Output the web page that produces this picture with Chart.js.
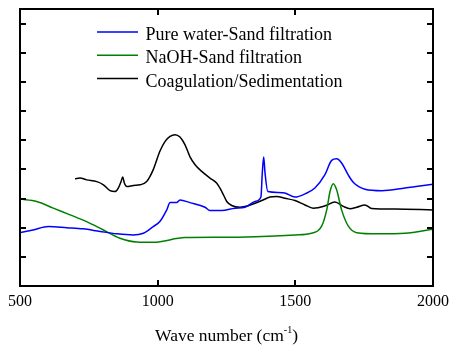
<!DOCTYPE html>
<html>
<head>
<meta charset="utf-8">
<script src="https://cdn.jsdelivr.net/npm/chart.js@4/dist/chart.umd.min.js"></script>
<style>
  html, body { margin: 0; padding: 0; background: #fff; }
  #wrap { width: 451px; height: 349px; position: relative; }
</style>
</head>
<body>
<div id="wrap"><canvas id="c" width="451" height="349"></canvas></div>
<script>
// FTIR spectra of the treated samples (wave number in cm-1, absorbance in arbitrary units)
const seriesLabels = ['Pure water-Sand filtration', 'NaOH-Sand filtration', 'Coagulation/Sedimentation'];
const seriesColors = ['#0000ff', '#008000', '#000000'];

const wavePure = [500, 547, 603, 670, 729, 791, 851, 910, 948, 984, 1008, 1033, 1045, 1069, 1081, 1117, 1172, 1190, 1233, 1281, 1317, 1354, 1375, 1380, 1385, 1390, 1400, 1438, 1462, 1499, 1535, 1571, 1607, 1632, 1650, 1668, 1692, 1711, 1753, 1814, 1898, 2000];
const absPure  = [1.83, 1.92, 2.04, 2.00, 1.96, 1.87, 1.79, 1.75, 1.81, 2.04, 2.21, 2.61, 2.86, 2.86, 2.95, 2.86, 2.70, 2.59, 2.59, 2.67, 2.70, 2.90, 3.05, 3.87, 4.42, 3.87, 3.24, 3.21, 3.19, 3.05, 3.16, 3.36, 3.81, 4.31, 4.36, 4.22, 3.81, 3.55, 3.32, 3.27, 3.36, 3.49];

const waveNaOH = [500, 561, 621, 682, 742, 803, 863, 924, 984, 1099, 1233, 1354, 1499, 1559, 1596, 1614, 1626, 1638, 1650, 1668, 1692, 1723, 1800, 1898, 2000];
const absNaOH  = [2.98, 2.90, 2.67, 2.44, 2.21, 1.92, 1.64, 1.51, 1.50, 1.66, 1.67, 1.69, 1.75, 1.81, 2.06, 2.61, 3.24, 3.51, 3.30, 2.61, 2.06, 1.83, 1.79, 1.81, 1.95];

const waveCoag = [700, 718, 742, 779, 803, 827, 845, 857, 867, 873, 879, 888, 912, 936, 960, 984, 1008, 1027, 1045, 1063, 1081, 1099, 1117, 1136, 1160, 1190, 1214, 1233, 1251, 1269, 1299, 1329, 1354, 1378, 1408, 1432, 1462, 1499, 1535, 1565, 1608, 1644, 1674, 1699, 1723, 1753, 1777, 1862, 2000];
const absCoag  = [3.68, 3.70, 3.64, 3.58, 3.47, 3.27, 3.24, 3.36, 3.58, 3.74, 3.53, 3.41, 3.45, 3.47, 3.58, 3.99, 4.62, 4.96, 5.13, 5.19, 5.11, 4.85, 4.44, 4.16, 3.93, 3.70, 3.53, 3.24, 2.90, 2.76, 2.70, 2.75, 2.84, 2.93, 3.05, 3.07, 3.01, 2.93, 2.78, 2.67, 2.75, 2.88, 2.73, 2.65, 2.70, 2.78, 2.66, 2.64, 2.61];

const xTicks = [500, 1000, 1500, 2000];
const xTitle = 'Wave number (cm';
const xTitleSup = '-1';

const SERIF = '"Liberation Serif", "Times New Roman", serif';

function pts(xs, ys) { return xs.map((x, i) => ({ x: x, y: ys[i] })); }

// Frame, inward tick marks, legend and axis title
const framePlugin = {
  id: 'frame',
  afterDraw(chart) {
    const ctx = chart.ctx;
    const a = chart.chartArea;
    const xs = chart.scales.x, ys = chart.scales.y;
    ctx.save();
    ctx.strokeStyle = '#000';
    ctx.lineWidth = 2;
    ctx.strokeRect(a.left, a.top, a.right - a.left, a.bottom - a.top);
    ctx.beginPath();
    xs.ticks.forEach(t => {
      const px = Math.round(xs.getPixelForValue(t.value));
      if (px <= a.left + 1 || px >= a.right - 1) return;
      ctx.moveTo(px, a.bottom); ctx.lineTo(px, a.bottom - 6);
      ctx.moveTo(px, a.top); ctx.lineTo(px, a.top + 6);
    });
    ys.ticks.forEach(t => {
      if (t.value <= 0 || t.value > 9) return;
      const py = Math.round(ys.getPixelForValue(t.value));
      ctx.moveTo(a.left, py); ctx.lineTo(a.left + 6, py);
      ctx.moveTo(a.right, py); ctx.lineTo(a.right - 6, py);
    });
    ctx.stroke();

    // legend
    ctx.font = '18px ' + SERIF;
    ctx.textBaseline = 'alphabetic';
    ctx.textAlign = 'left';
    chart.data.datasets.forEach((ds, i) => {
      const y = 32 + i * 23.3;
      ctx.strokeStyle = ds.borderColor;
      ctx.lineWidth = 1.5;
      ctx.beginPath();
      ctx.moveTo(97, y); ctx.lineTo(138, y);
      ctx.stroke();
      ctx.fillStyle = '#000';
      ctx.fillText(ds.label, 145.5, y + 8);
    });

    // x axis title with superscript
    ctx.fillStyle = '#000';
    ctx.font = '17.5px ' + SERIF;
    const w1 = ctx.measureText(xTitle).width;
    ctx.font = '10px ' + SERIF;
    const w2 = ctx.measureText(xTitleSup).width;
    ctx.font = '17.5px ' + SERIF;
    const w3 = ctx.measureText(')').width;
    const cx = (a.left + a.right) / 2;
    const x0 = cx - (w1 + w2 + w3) / 2;
    const base = 341;
    ctx.fillText(xTitle, x0, base);
    ctx.font = '10px ' + SERIF;
    ctx.fillText(xTitleSup, x0 + w1, base - 8);
    ctx.font = '17.5px ' + SERIF;
    ctx.fillText(')', x0 + w1 + w2, base);
    ctx.restore();
  }
};

const lineDs = (label, color, xs, ys) => ({
  label: label,
  data: pts(xs, ys),
  borderColor: color,
  backgroundColor: color,
  borderWidth: 1.5,
  pointRadius: 0,
  fill: false,
  cubicInterpolationMode: 'monotone'
});

new Chart(document.getElementById('c'), {
  type: 'line',
  data: {
    datasets: [
      lineDs(seriesLabels[0], seriesColors[0], wavePure, absPure),
      lineDs(seriesLabels[1], seriesColors[1], waveNaOH, absNaOH),
      lineDs(seriesLabels[2], seriesColors[2], waveCoag, absCoag)
    ]
  },
  options: {
    responsive: false,
    animation: false,
    layout: { padding: { left: 0, right: 18, top: 9, bottom: 0 } },
    plugins: { legend: { display: false }, tooltip: { enabled: false } },
    scales: {
      x: {
        type: 'linear',
        min: 500, max: 2000,
        afterBuildTicks(scale) { scale.ticks = xTicks.map(v => ({ value: v })); },
        afterFit(scale) {
          scale.height = 63;
          scale.paddingLeft = 0;
          scale.paddingRight = 0;
        },
        grid: { display: false, drawTicks: false },
        border: { display: false },
        ticks: {
          color: '#000',
          font: { family: SERIF, size: 16 },
          maxRotation: 0,
          padding: 6,
          callback: v => String(v)
        }
      },
      y: {
        min: 0, max: 9.5,
        afterFit(scale) { scale.width = 20; },
        grid: { display: false, drawTicks: false },
        border: { display: false },
        ticks: { display: false, stepSize: 1 }
      }
    }
  },
  plugins: [framePlugin]
});
</script>
</body>
</html>
